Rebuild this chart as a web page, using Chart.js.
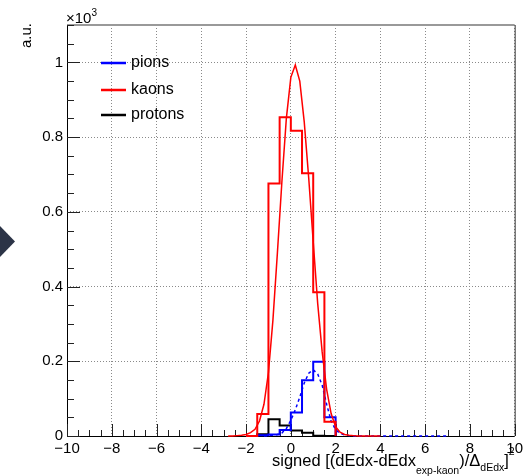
<!DOCTYPE html>
<html>
<head>
<meta charset="utf-8">
<title>dEdx kaon hypothesis</title>
<script src="https://cdn.jsdelivr.net/npm/chart.js@4/dist/chart.umd.min.js"></script>
<style>
  html, body { margin: 0; padding: 0; background: #fff; }
  #wrap { position: relative; width: 527px; height: 476px; }
  #arrow {
    position: absolute; left: 0; top: 226px; width: 15px; height: 31px;
    background: #2c3447; clip-path: polygon(0 0, 100% 50%, 0 100%);
  }
</style>
</head>
<body>
<div id="wrap">
  <canvas id="dedxChart" width="527" height="476"></canvas>
  <div id="arrow"></div>
</div>
<script>
// histogram binning (0.5 wide bins starting at -2)
const binLow = -2.0;
const binWidth = 0.5;
const pionCounts   = [0, 2, 4, 16, 63, 149, 199, 50];
const kaonCounts   = [0, 59, 676, 853, 817, 703, 385, 38];
const protonCounts = [0, 5, 45, 28, 15, 9, 1, 0];

// fitted curves, sampled every 0.2
const kaonFitX = [-2.8, -2.6, -2.4, -2.2, -2.0, -1.8, -1.6, -1.4, -1.2, -1.0, -0.8, -0.6, -0.4, -0.2,
                  0.0, 0.2, 0.4, 0.6, 0.8, 1.0, 1.2, 1.4, 1.6, 1.8, 2.0, 2.2, 2.4, 2.6, 2.8, 3.0,
                  3.2, 3.4, 3.6, 3.8, 4.0];
const kaonFitY = [0, 0, 1, 2, 4, 9, 18, 40, 85, 170, 310, 490, 680, 850,
                  960, 993, 950, 840, 690, 520, 355, 225, 125, 60, 25, 10, 4, 2, 1, 0,
                  0, 0, 0, 0, 0];
const pionFitX = [-1.2, -1.0, -0.8, -0.6, -0.4, -0.2, 0.0, 0.2, 0.4, 0.6, 0.8, 1.0, 1.2, 1.4,
                  1.6, 1.8, 2.0, 2.2, 2.4, 2.6, 2.8, 3.0, 3.4, 3.8, 4.2, 4.6, 5.0, 5.4, 5.8,
                  6.2, 6.6, 7.0];
const pionFitY = [0, 1, 2, 4, 8, 20, 42, 70, 104, 142, 168, 177, 166, 136,
                  85, 40, 17, 7, 3, 1, 0, 0, 0, 0, 0, 0, 0, 0, 0,
                  0, 0, 0];

const xTicks = [-10, -8, -6, -4, -2, 0, 2, 4, 6, 8, 10];
const yTicks = [0, 200, 400, 600, 800, 1000];

const FONT = '"Liberation Sans", Arial, Helvetica, sans-serif';

function histPoints(counts) {
    const pts = counts.map((c, i) => ({ x: binLow + i * binWidth, y: c }));
    pts.push({ x: binLow + counts.length * binWidth, y: 0 });
    return pts;
}

function curvePoints(xs, ys) {
    return xs.map((x, i) => ({ x: x, y: ys[i] }));
}

// ROOT-like frame: axes, inner ticks, titles and legend
const rootFrame = {
    id: 'rootFrame',
    beforeDatasetsDraw(chart) {
        const ctx = chart.ctx;
        const a = chart.chartArea;
        const xs = chart.scales.x, ys = chart.scales.y;
        ctx.save();
        // top and right frame
        ctx.strokeStyle = '#999';
        ctx.lineWidth = 2;
        ctx.beginPath();
        ctx.moveTo(a.left, a.top); ctx.lineTo(a.right, a.top);
        ctx.stroke();
        ctx.strokeStyle = '#333';
        ctx.lineWidth = 1;
        ctx.beginPath();
        ctx.moveTo(a.right + 0.5, a.top); ctx.lineTo(a.right + 0.5, a.bottom);
        ctx.stroke();
        // axes
        ctx.strokeStyle = '#000';
        ctx.beginPath();
        ctx.moveTo(a.left + 0.5, a.top); ctx.lineTo(a.left + 0.5, a.bottom + 0.5);
        ctx.lineTo(a.right, a.bottom + 0.5);
        ctx.stroke();
        // x ticks, pointing into the frame
        ctx.strokeStyle = '#222';
        ctx.beginPath();
        for (let v = xs.min; v <= xs.max + 1e-9; v += 0.5) {
            const px = Math.round(xs.getPixelForValue(v)) + 0.5;
            const len = Math.abs(v % 2) < 1e-9 ? 12 : 6;
            ctx.moveTo(px, a.bottom);
            ctx.lineTo(px, a.bottom - len);
        }
        // y ticks
        for (let v = 0; v <= ys.max + 1e-9; v += 50) {
            const py = Math.round(ys.getPixelForValue(v)) + 0.5;
            const len = v % 200 === 0 ? 13 : 7;
            ctx.moveTo(a.left, py);
            ctx.lineTo(a.left + len, py);
        }
        ctx.stroke();
        ctx.restore();
    },
    afterDraw(chart) {
        const ctx = chart.ctx;
        ctx.save();
        ctx.fillStyle = '#000';
        ctx.textBaseline = 'alphabetic';

        // y title
        ctx.save();
        ctx.translate(31, 23);
        ctx.rotate(-Math.PI / 2);
        ctx.textAlign = 'right';
        ctx.font = '15px ' + FONT;
        ctx.fillText('a.u.', 0, 0);
        ctx.restore();

        // exponent of the y axis
        ctx.textAlign = 'left';
        ctx.font = '15px ' + FONT;
        ctx.fillText('\u00d710', 66, 23);
        const w = ctx.measureText('\u00d710').width;
        ctx.font = '10px ' + FONT;
        ctx.fillText('3', 66 + w, 16);

        // x title with sub/superscripts
        const parts = [
            ['signed [(dEdx-dEdx', 16.5, 466],
            ['exp-kaon', 10.5, 474],
            [')/\u0394', 16.5, 466],
            ['dEdx', 10.5, 471],
            [']', 16.5, 466],
            ['2', 10.5, 455]
        ];
        let x = 272;
        parts.forEach(p => {
            ctx.font = p[1] + 'px ' + FONT;
            ctx.fillText(p[0], x, p[2]);
            x += ctx.measureText(p[0]).width;
        });

        // legend
        const entries = [['pions', '#0000ff', 63], ['kaons', '#ff0000', 90], ['protons', '#000000', 115]];
        ctx.font = '16px ' + FONT;
        ctx.textBaseline = 'middle';
        entries.forEach(e => {
            ctx.strokeStyle = e[1];
            ctx.lineWidth = 2.5;
            ctx.beginPath();
            ctx.moveTo(101, e[2]);
            ctx.lineTo(126, e[2]);
            ctx.stroke();
            ctx.fillStyle = '#000';
            ctx.fillText(e[0], 131, e[2]);
        });
        ctx.restore();
    }
};

function createChart() {
    const ctx = document.getElementById('dedxChart');
    new Chart(ctx, {
        type: 'line',
        data: {
            datasets: [
                {
                    label: 'kaons',
                    data: histPoints(kaonCounts),
                    borderColor: '#ff0000',
                    borderWidth: 2,
                    stepped: 'before'
                },
                {
                    label: 'kaon fit',
                    data: curvePoints(kaonFitX, kaonFitY),
                    borderColor: '#ff0000',
                    borderWidth: 1.5
                },
                {
                    label: 'pions',
                    data: histPoints(pionCounts),
                    borderColor: '#0000ff',
                    borderWidth: 2,
                    stepped: 'before'
                },
                {
                    label: 'pion fit',
                    data: curvePoints(pionFitX, pionFitY),
                    borderColor: '#0000ff',
                    borderWidth: 1.5,
                    borderDash: [3, 3]
                },
                {
                    label: 'protons',
                    data: histPoints(protonCounts),
                    borderColor: '#000000',
                    borderWidth: 2,
                    stepped: 'before'
                }
            ]
        },
        options: {
            responsive: false,
            animation: false,
            events: [],
            clip: false,
            elements: {
                point: { radius: 0 },
                line: { tension: 0, fill: false }
            },
            layout: { padding: { top: 25, right: 10, left: 0, bottom: 0 } },
            plugins: {
                legend: { display: false },
                tooltip: { enabled: false }
            },
            scales: {
                x: {
                    type: 'linear',
                    min: -10,
                    max: 10,
                    afterFit: s => { s.height = 40; },
                    afterBuildTicks: s => { s.ticks = xTicks.map(v => ({ value: v })); },
                    border: { display: false, dash: [1, 2] },
                    grid: { color: '#8a8a8a', lineWidth: 1, drawTicks: false },
                    ticks: {
                        padding: 4,
                        color: '#000',
                        font: { family: FONT, size: 15 },
                        callback: v => String(v).replace('-', '\u2212')
                    }
                },
                y: {
                    min: 0,
                    max: 1100,
                    afterFit: s => { s.width = 67; },
                    afterBuildTicks: s => { s.ticks = yTicks.map(v => ({ value: v })); },
                    border: { display: false, dash: [1, 2] },
                    grid: { color: '#8a8a8a', lineWidth: 1, drawTicks: false },
                    ticks: {
                        padding: 4,
                        color: '#000',
                        font: { family: FONT, size: 15 },
                        callback: v => String(v / 1000)
                    }
                }
            }
        },
        plugins: [rootFrame]
    });
}

document.addEventListener('DOMContentLoaded', createChart);
</script>
</body>
</html>
